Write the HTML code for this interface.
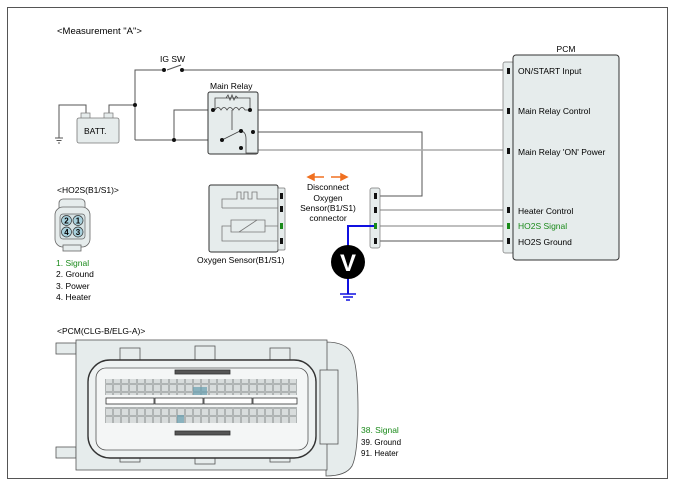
<!DOCTYPE html>
<html><head><meta charset="utf-8"><style>
html,body{margin:0;padding:0;background:#fff;}
svg{display:block;font-family:"Liberation Sans",Arial,sans-serif;}
</style></head><body>
<svg width="675" height="486" viewBox="0 0 675 486" xmlns="http://www.w3.org/2000/svg">
<defs>
<pattern id="pins" x="105" y="0" width="8" height="8" patternUnits="userSpaceOnUse">
<rect x="0.5" y="0.5" width="7" height="7" fill="#d8dcdc" stroke="#8a9090" stroke-width="0.6"/>
</pattern>
</defs>
<rect x="7.5" y="7.5" width="660" height="471" fill="none" stroke="#555" stroke-width="1"/>
<text x="57" y="34" font-size="9.5">&lt;Measurement "A"&gt;</text>

<!-- wires -->
<g fill="none" stroke="#555" stroke-width="1">
<polyline points="135,140 135,70 164,70"/>
<polyline points="182,70 505,70"/>
<line x1="167" y1="70" x2="181" y2="65"/>
<polyline points="109,115 109,105 135,105"/>
<polyline points="86,115 86,105 59,105 59,138"/>
<line x1="55" y1="138" x2="63" y2="138"/><line x1="56.5" y1="140.5" x2="61.5" y2="140.5"/><line x1="58" y1="143" x2="60" y2="143"/>
<polyline points="135,140 222,140"/>
<polyline points="174,140 174,110 213,110"/>
<line x1="250" y1="110" x2="505" y2="110"/>
<polyline points="253,132 422,132 422,196 378,196"/>
<line x1="378" y1="241" x2="505" y2="241"/>
</g>
<g fill="none" stroke="#aaa" stroke-width="1.4">
<line x1="257" y1="150" x2="505" y2="150"/>
<line x1="378" y1="210" x2="505" y2="210"/>
<line x1="378" y1="226" x2="505" y2="226"/>
</g>
<text x="160" y="62" font-size="8.5">IG SW</text>
<circle cx="164" cy="70" r="2" fill="#111"/><circle cx="182" cy="70" r="2" fill="#111"/>
<circle cx="135" cy="105" r="2" fill="#111"/><circle cx="174" cy="140" r="2" fill="#111"/>

<!-- battery -->
<rect x="81" y="113" width="9" height="6" fill="#e6ecec" stroke="#777" stroke-width="0.7"/>
<rect x="104" y="113" width="9" height="6" fill="#e6ecec" stroke="#777" stroke-width="0.7"/>
<rect x="77" y="118" width="42" height="25" rx="2" fill="#e6ecec" stroke="#777" stroke-width="0.8"/>
<text x="84" y="134" font-size="8.5">BATT.</text>

<!-- relay -->
<text x="210" y="89" font-size="8.5">Main Relay</text>
<rect x="208" y="92" width="50" height="62" rx="2" fill="#e6ecec" stroke="#333" stroke-width="1"/>
<g fill="none" stroke="#444" stroke-width="0.8">
<polyline points="215,110 215,98 250,98 250,110"/>
<polyline points="226,98 228,95 230,100 232,95 234,100 236,96 238,98"/>
<path d="M215,110 q3,-5 6,0 q3,-5 6,0 q3,-5 6,0 q3,-5 6,0 q3,-5 6,0 l4,0"/>
<line x1="232" y1="110" x2="232" y2="130"/>
<line x1="222" y1="140" x2="240" y2="131"/>
<path d="M240,131 q6,0 6,8 l0,14 l11,0"/>
</g>
<circle cx="213" cy="110" r="2" fill="#111"/><circle cx="250" cy="110" r="2" fill="#111"/>
<circle cx="222" cy="140" r="2" fill="#111"/><circle cx="241" cy="131" r="2" fill="#111"/>
<circle cx="253" cy="132" r="2" fill="#111"/><circle cx="241" cy="148" r="2" fill="#111"/>

<!-- HO2S connector -->
<text x="57" y="193" font-size="8.5">&lt;HO2S(B1/S1)&gt;</text>
<rect x="59" y="199" width="26" height="14" rx="4" fill="#e6ecec" stroke="#666" stroke-width="0.8"/>
<rect x="55" y="207" width="35" height="40" rx="8" fill="#e6ecec" stroke="#666" stroke-width="0.8"/>
<rect x="63" y="245" width="18" height="6" fill="#e6ecec" stroke="#666" stroke-width="0.8"/>
<rect x="60" y="214" width="25" height="25" rx="3" fill="#d6e2e4" stroke="#666" stroke-width="0.7"/>
<g fill="#a8d0dc" stroke="#333" stroke-width="0.7">
<circle cx="66.5" cy="220.5" r="5"/><circle cx="78" cy="220.5" r="5"/>
<circle cx="66.5" cy="232" r="5"/><circle cx="78" cy="232" r="5"/>
</g>
<g font-size="8" text-anchor="middle" font-weight="bold">
<text x="66.5" y="223.5">2</text><text x="78" y="223.5">1</text>
<text x="66.5" y="235">4</text><text x="78" y="235">3</text>
</g>
<text x="56" y="266" font-size="8.5" fill="#1a8a1a">1. Signal</text>
<text x="56" y="277" font-size="8.5">2. Ground</text>
<text x="56" y="289" font-size="8.5">3. Power</text>
<text x="56" y="300" font-size="8.5">4. Heater</text>

<!-- oxygen sensor -->
<rect x="209" y="185" width="69" height="67" rx="2" fill="#e6ecec" stroke="#333" stroke-width="1"/>
<rect x="278" y="188" width="7" height="62" rx="1" fill="#e6ecec" stroke="#777" stroke-width="0.7"/>
<g fill="none" stroke="#777" stroke-width="0.8">
<polyline points="222,208 222,199 237,199 237,192 241,192 241,199 244,199 244,192 248,192 248,199 252,199 252,192 257,192 257,199 278,199"/>
<polyline points="278,208 222,208"/>
<polyline points="278,226 265,226 265,220 231,220 231,232 265,232 265,226"/>
<line x1="239" y1="232" x2="257" y2="220"/>
<polyline points="231,226 222,226 222,241 278,241"/>
</g>
<rect x="280" y="193" width="3" height="6" fill="#111"/><rect x="280" y="206" width="3" height="6" fill="#111"/>
<rect x="280" y="223" width="3" height="6" fill="#1a8a1a"/><rect x="280" y="238" width="3" height="6" fill="#111"/>
<text x="197" y="263" font-size="8.5">Oxygen Sensor(B1/S1)</text>

<!-- orange arrows -->
<g stroke="#f07020" stroke-width="1.5" fill="#f07020">
<line x1="312" y1="177" x2="324" y2="177"/><polygon points="308,177 314,174 314,180"/>
<line x1="331" y1="177" x2="342" y2="177"/><polygon points="347,177 341,174 341,180"/>
</g>
<g font-size="8.5" text-anchor="middle">
<text x="328" y="190">Disconnect</text><text x="328" y="201">Oxygen</text>
<text x="328" y="211">Sensor(B1/S1)</text><text x="328" y="221">connector</text>
</g>

<!-- connector strip -->
<rect x="370" y="188" width="10" height="60" rx="2" fill="#e6ecec" stroke="#777" stroke-width="0.7"/>
<rect x="374" y="193" width="3" height="6" fill="#111"/><rect x="374" y="207" width="3" height="6" fill="#111"/>
<rect x="374" y="223" width="3" height="6" fill="#1a8a1a"/><rect x="374" y="238" width="3" height="6" fill="#111"/>

<!-- voltmeter -->
<polyline points="374,226 348,226 348,246" fill="none" stroke="#1010e0" stroke-width="2"/>
<line x1="348" y1="278" x2="348" y2="294" stroke="#1010e0" stroke-width="2"/>
<line x1="340" y1="294" x2="356" y2="294" stroke="#1010e0" stroke-width="1.5"/>
<line x1="343" y1="297" x2="353" y2="297" stroke="#1010e0" stroke-width="1.5"/>
<line x1="346" y1="300" x2="350" y2="300" stroke="#1010e0" stroke-width="1.5"/>
<circle cx="348" cy="262" r="17" fill="#000"/>
<text x="348" y="271" font-size="24" font-weight="bold" fill="#fff" text-anchor="middle">V</text>

<!-- PCM -->
<text x="566" y="52" font-size="8.5" text-anchor="middle">PCM</text>
<rect x="503" y="62" width="11" height="191" rx="2" fill="#e6ecec" stroke="#777" stroke-width="0.7"/>
<rect x="513" y="55" width="106" height="205" rx="3" fill="#e6ecec" stroke="#333" stroke-width="1"/>
<g fill="#111">
<rect x="507" y="68" width="3" height="6"/><rect x="507" y="108" width="3" height="6"/>
<rect x="507" y="148" width="3" height="6"/><rect x="507" y="207" width="3" height="6"/>
<rect x="507" y="238" width="3" height="6"/>
</g>
<rect x="507" y="223" width="3" height="6" fill="#1a8a1a"/>
<g font-size="8.5">
<text x="518" y="74">ON/START Input</text>
<text x="518" y="114">Main Relay Control</text>
<text x="518" y="155">Main Relay 'ON' Power</text>
<text x="518" y="214">Heater Control</text>
<text x="518" y="229" fill="#1a8a1a">HO2S Signal</text>
<text x="518" y="245">HO2S Ground</text>
</g>

<!-- PCM connector -->
<text x="57" y="334" font-size="8.5">&lt;PCM(CLG-B/ELG-A)&gt;</text>
<g fill="#e6ecec" stroke="#555" stroke-width="0.8">
<rect x="56" y="343" width="20" height="11"/><rect x="56" y="447" width="20" height="11"/>
<path d="M326,342 q20,0 26,12 q6,12 6,56 q0,44 -6,56 q-6,10 -26,10 z"/>
<rect x="76" y="340" width="251" height="130"/>
<rect x="320" y="370" width="18" height="74"/>
<rect x="120" y="348" width="20" height="14"/><rect x="195" y="346" width="20" height="14"/><rect x="270" y="348" width="20" height="14"/>
<rect x="120" y="448" width="20" height="14"/><rect x="195" y="450" width="20" height="14"/><rect x="270" y="448" width="20" height="14"/>
<rect x="88" y="360" width="228" height="98" rx="22" fill="#eef2f2" stroke="#333" stroke-width="1.4"/>
<rect x="96" y="368" width="212" height="82" rx="10" fill="#f4f6f6"/>
</g>
<rect x="105" y="379" width="192" height="16" fill="url(#pins)"/>
<rect x="105" y="407" width="192" height="16" fill="url(#pins)"/>
<rect x="193" y="387" width="14" height="8" fill="#6aa0b0" opacity="0.7"/>
<rect x="177" y="415" width="7" height="8" fill="#6aa0b0" opacity="0.7"/>
<g fill="#fff" stroke="#333" stroke-width="0.8">
<rect x="106" y="398" width="48" height="6"/><rect x="155" y="398" width="48" height="6"/>
<rect x="204" y="398" width="48" height="6"/><rect x="253" y="398" width="44" height="6"/>
<rect x="175" y="370" width="55" height="4" fill="#555"/><rect x="175" y="431" width="55" height="4" fill="#555"/>
</g>
<text x="361" y="433" font-size="8.5" fill="#1a8a1a">38. Signal</text>
<text x="361" y="445" font-size="8">39. Ground</text>
<text x="361" y="456" font-size="8">91. Heater</text>
</svg>
</body></html>
